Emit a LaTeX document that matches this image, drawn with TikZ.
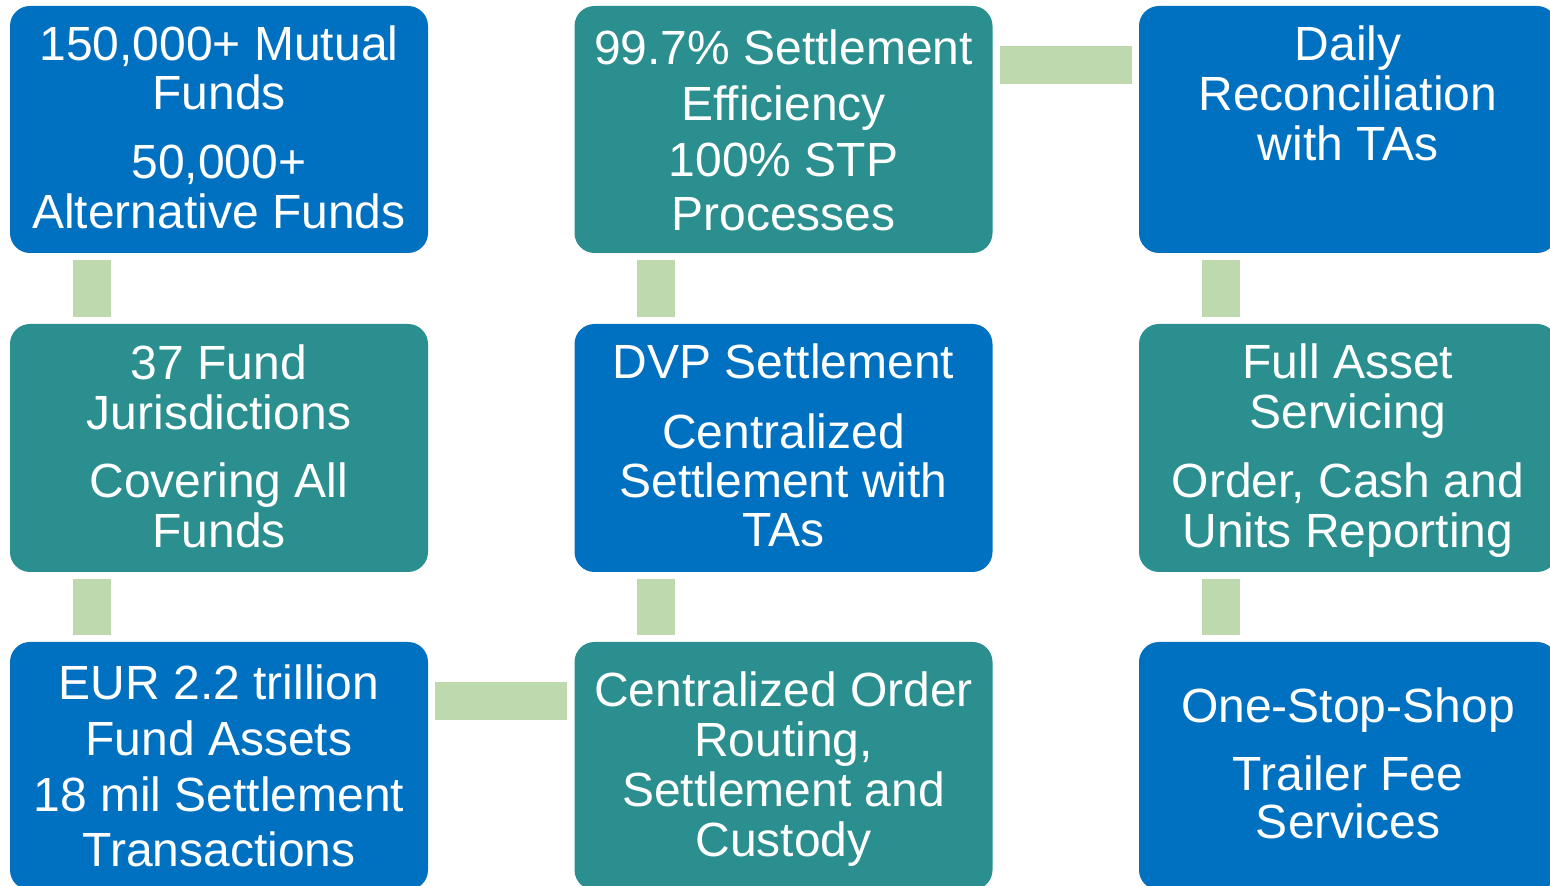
\documentclass[tikz,border=0pt]{standalone}
\usepackage{fontspec}
\setmainfont{Liberation Sans}
\definecolor{bblue}{HTML}{0070C0}
\definecolor{bteal}{HTML}{2A8F8E}
\definecolor{cgreen}{HTML}{BFD9AE}
\tikzset{
  box/.style={rectangle, rounded corners=20pt, minimum width=418pt, minimum height=248pt, inner sep=0pt, draw=none},
  bluebox/.style={box, fill=bblue},
  tealbox/.style={box, fill=bteal},
  txt/.style={anchor=north, inner sep=0pt, align=center, text=white, font=\fontsize{48pt}{50pt}\selectfont},
  conn/.style={draw=cgreen, line width=38pt, line cap=butt}
}
\newcommand{\fs}{\rule{0pt}{36pt}}
\begin{document}
\begin{tikzpicture}[x=1pt,y=1pt]
\clip (0,0) rectangle (1550,886);
\fill[white] (0,0) rectangle (1550,886);
% boxes
\node[bluebox, minimum height=247pt] (b11) at (219,756.5) {};
\node[tealbox, minimum height=247pt] (b12) at (783.5,756.5) {};
\node[bluebox, minimum height=247pt] (b13) at (1348,756.5) {};
\node[tealbox] (b21) at (219,438) {};
\node[bluebox] (b22) at (783.5,438) {};
\node[tealbox] (b23) at (1348,438) {};
\node[bluebox] (b31) at (219,120) {};
\node[tealbox] (b32) at (783.5,120) {};
\node[bluebox] (b33) at (1348,120) {};
% connectors
\draw[conn] ([xshift=82pt,yshift=-7pt]b11.south west) -- ([xshift=82pt,yshift=7pt]b21.north west);
\draw[conn] ([xshift=82pt,yshift=-7pt]b21.south west) -- ([xshift=82pt,yshift=7pt]b31.north west);
\draw[conn] ([xshift=82pt,yshift=-7pt]b12.south west) -- ([xshift=82pt,yshift=7pt]b22.north west);
\draw[conn] ([xshift=82pt,yshift=-7pt]b22.south west) -- ([xshift=82pt,yshift=7pt]b32.north west);
\draw[conn] ([xshift=82pt,yshift=-7pt]b13.south west) -- ([xshift=82pt,yshift=7pt]b23.north west);
\draw[conn] ([xshift=82pt,yshift=-7pt]b23.south west) -- ([xshift=82pt,yshift=7pt]b33.north west);
\draw[conn] ([xshift=7pt,yshift=-59pt]b31.north east) -- ([xshift=-7pt,yshift=-59pt]b32.north west);
\draw[conn] ([xshift=7pt,yshift=-59pt]b12.north east) -- ([xshift=-7pt,yshift=-59pt]b13.north west);
% texts
\node[txt] (t11) at (219,862) {\fs150,000+ Mutual\\[-1pt]Funds\\[19pt]50,000+\\Alternative Funds};
\node[txt] (t12) at (783.5,858) {\fs99.7\% Settlement\\[6pt]Efficiency\\[6pt]100\% STP\\[4pt]Processes};
\node[txt] (t13) at (1348,862) {\fs Daily\\Reconciliation\\with TAs};
\node[txt] (t21) at (219,543) {\fs37 Fund\\Jurisdictions\\[18pt]Covering All\\Funds};
\node[txt] (t22) at (783.5,544) {\fs DVP Settlement\\[20pt]Centralized\\[-1pt]Settlement with\\[-1pt]TAs};
\node[txt] (t23) at (1348,544) {\fs Full Asset\\Servicing\\[19pt]Order, Cash and\\Units Reporting};
\node[txt] (t31) at (219,223) {\fs EUR 2.2 trillion\\[6pt]Fund Assets\\[6pt]18 mil Settlement\\[5pt]Transactions};
\node[txt] (t32) at (783.5,216) {\fs Centralized Order\\Routing,\\Settlement and\\Custody};
\node[txt] (t33) at (1348,200) {\fs One-Stop-Shop\\[18pt]Trailer Fee\\[-2pt]Services};
\end{tikzpicture}
\end{document}
